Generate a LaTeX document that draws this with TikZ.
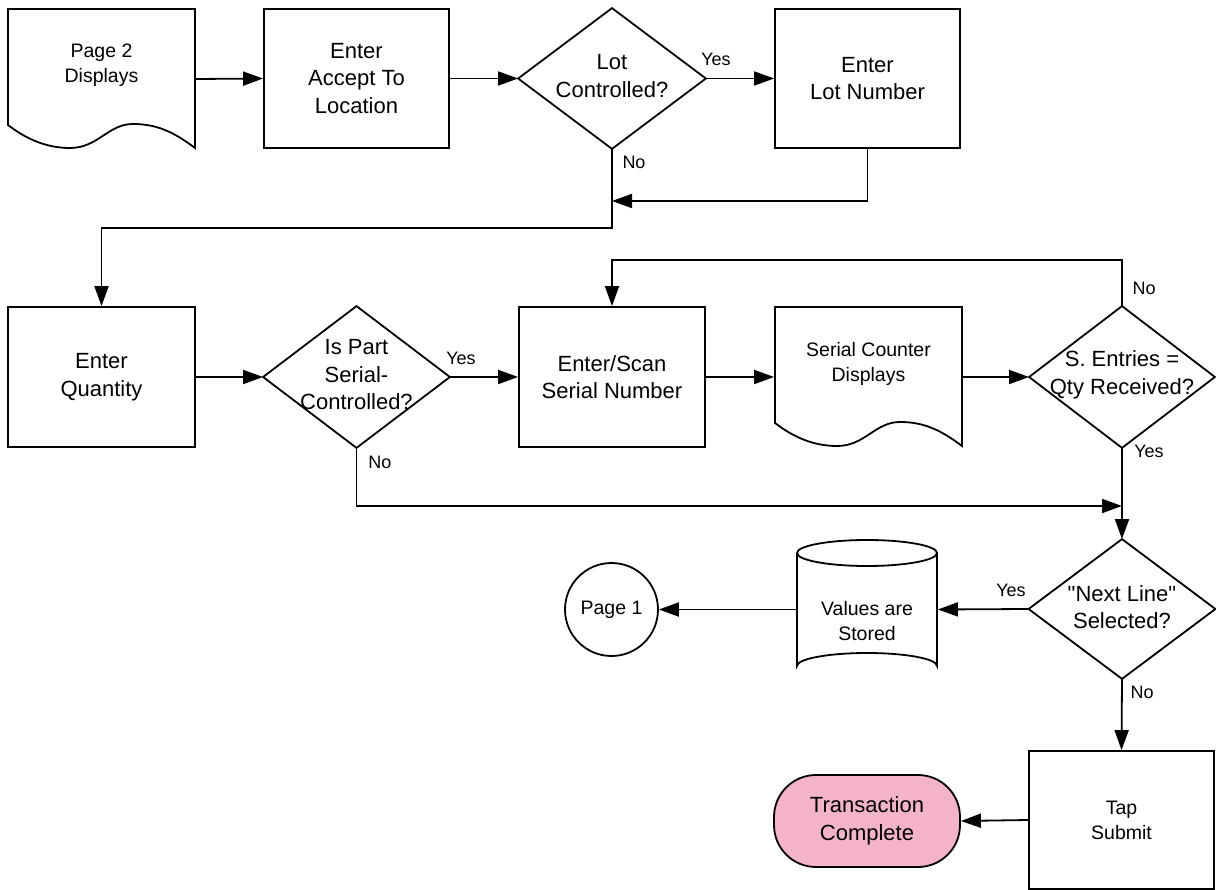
\documentclass[tikz,border=0pt]{standalone}
\usepackage{fontspec}
\setmainfont{Liberation Sans}
\newfontfamily\nomapfont{Liberation Sans}
\usetikzlibrary{arrows.meta}
\definecolor{termpink}{RGB}{244,180,199}
\begin{document}
\begin{tikzpicture}[x=1pt,y=-1pt,
  line width=1.8pt,
  big/.style={font=\fontsize{22}{27.5}\selectfont},
  small/.style={font=\fontsize{19.5}{25}\selectfont},
  lbl/.style={font=\fontsize{18}{22}\selectfont, inner sep=0},
  procbox/.style={draw, rectangle, inner sep=0, align=center, big},
  frame/.style={rectangle, inner sep=0, draw=none},
  txt/.style={align=center, inner sep=0},
  flow/.style={-{Triangle[length=20pt,width=14pt]}},
]
\useasboundingbox (0,0) rectangle (1216,890);

% ---- row 1
\node[frame, minimum width=187, minimum height=140] (p2) at (101.5,79) {};
\draw (8,125) -- (8,9) -- (195,9) -- (195,148)
      .. controls (175,133) and (158,124) .. (133,124)
      .. controls (108,124) and (98,148) .. (70,148)
      .. controls (45,148) and (25,138) .. (8,125) -- cycle;
\node[txt, small] (p2t) at (101.5,65) {Page 2\\Displays};

\node[procbox, minimum width=185, minimum height=139] (acc) at (356.5,78.5) {Enter\\Accept To\\Location};

\node[frame, minimum width=186, minimum height=139] (lot) at (612,78.5) {};
\draw (lot.north) -- (lot.east) -- (lot.south) -- (lot.west) -- cycle;
\node[txt, big] (lott) at (612,76) {Lot\\Controlled?};

\node[procbox, minimum width=185, minimum height=139] (lotn) at (867.5,78.5) {Enter\\Lot Number};

% ---- row 2
\node[procbox, minimum width=187, minimum height=140] (qty) at (101.5,377) {Enter\\Quantity};

\node[frame, minimum width=185, minimum height=140] (ser) at (356.5,377) {};
\draw (ser.north) -- (ser.east) -- (ser.south) -- (ser.west) -- cycle;
\node[txt, big] (sert) at (356.5,375) {Is Part\\Serial-\\Controlled?};

\node[procbox, minimum width=186, minimum height=140] (scan) at (612,377) {Enter/Scan\\Serial Number};

\node[frame, minimum width=187, minimum height=140] (sc) at (868.5,377) {};
\begin{scope}[shift={(767,298)}]
\draw (8,125) -- (8,9) -- (195,9) -- (195,148)
      .. controls (175,133) and (158,124) .. (133,124)
      .. controls (108,124) and (98,148) .. (70,148)
      .. controls (45,148) and (25,138) .. (8,125) -- cycle;
\end{scope}
\node[txt, small] (sct) at (868.5,364) {Serial Counter\\Displays};

\node[frame, minimum width=184, minimum height=140] (qr) at (1122,377) {};
\draw (qr.north) -- (qr.east) -- (qr.south) -- (qr.west) -- cycle;
\node[txt, big] (qrt) at (1122,375) {S. Entries =\\Qty Received?};

% ---- row 3
\node[frame, minimum width=185, minimum height=138] (nl) at (1122,609) {};
\draw (nl.north) -- (nl.east) -- (nl.south) -- (nl.west) -- cycle;
\node[txt, big] (nlt) at (1122,607) {{\nomapfont "Next Line"}\\Selected?};

\node[frame, minimum width=140, minimum height=139] (vals) at (867,609.5) {};
\draw (797,553) -- (797,666) arc[start angle=180, end angle=360, x radius=70, y radius=13]
      -- (937,553) arc[start angle=0, end angle=-180, x radius=70, y radius=13] -- cycle;
\draw (797,553) arc[start angle=180, end angle=0, x radius=70, y radius=13];
\node[txt, small] (valst) at (867,621) {Values are\\Stored};

\node[draw, circle, minimum size=93, inner sep=0, small] (p1) at (611.5,609.5) {Page 1};

\node[procbox, small, minimum width=185, minimum height=138] (tap) at (1121.5,820) {Tap\\Submit};

\node[draw, fill=termpink, rectangle, rounded corners=42, minimum width=186, minimum height=92,
      inner sep=0, align=center, big] (tc) at (867,821) {Transaction\\Complete};

% ---- connectors
\coordinate (m1) at (612,201);
\coordinate (j1) at (612,228);
\coordinate (loopc) at (1122,260);
\coordinate (j2) at (1122,506);

\draw[flow] (p2.east) -- (acc.west);
\draw[flow] (acc.east) -- (lot.west);
\draw[flow] (lot.east) -- (lotn.west);
\draw[flow] (lotn.south) |- (m1);
\draw[flow] (lot.south) -- (j1) -| (qty.north);
\draw[flow] (qty.east) -- (ser.west);
\draw[flow] (ser.east) -- (scan.west);
\draw[flow] (scan.east) -- (sc.west);
\draw[flow] (sc.east) -- (qr.west);
\draw[flow] (qr.north) -- (loopc) -| (scan.north);
\draw[flow] (ser.south) |- (j2);
\draw[flow] (qr.south) -- (nl.north);
\draw[flow] (nl.west) -- (vals.east);
\draw[flow] (vals.west) -- (p1.east);
\draw[flow] (nl.south) -- (tap.north);
\draw[flow] (tap.west) -- (tc.east);

% ---- labels
\node[lbl] (l1) at (716,59) {Yes};
\node[lbl] (l2) at (634,162) {No};
\node[lbl] (l3) at (461,358) {Yes};
\node[lbl] (l4) at (380,462) {No};
\node[lbl] (l5) at (1144,288) {No};
\node[lbl] (l6) at (1149,451) {Yes};
\node[lbl] (l7) at (1011,590) {Yes};
\node[lbl] (l8) at (1142,692) {No};
\end{tikzpicture}
\end{document}
